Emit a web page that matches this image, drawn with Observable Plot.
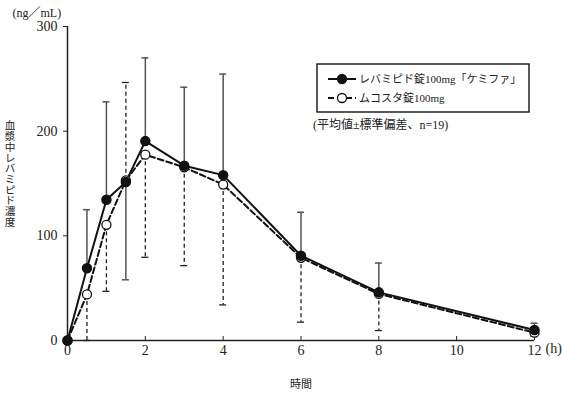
<!DOCTYPE html>
<html><head><meta charset="utf-8">
<script src="https://cdn.jsdelivr.net/npm/d3@7"></script>
<script src="https://cdn.jsdelivr.net/npm/@observablehq/plot@0.6"></script>
<style>
body{margin:0;background:#fff;}
#wrap{position:relative;width:562px;height:395px;}
#legend{position:absolute;left:0;top:0;pointer-events:none;}
</style></head><body><div id="wrap"></div>
<script>
// time points (h)
const times = [0, 0.5, 1, 1.5, 2, 3, 4, 6, 8, 12];
// レバミピド錠100mg「ケミファ」 mean and shown SD bound
const testMean  = [0, 69, 134.5, 151.5, 190.5, 167, 158, 81, 46, 10];
const testBound = [null, 125, 228, 58, 270, 242, 254.5, 122.5, 74, 16.5];
// ムコスタ錠100mg mean and shown SD bound
const refMean  = [0, 44, 110.5, 153, 177.5, 165.5, 149, 79, 44.5, 7.5];
const refBound = [null, 0, 47, 246.5, 79.5, 71.5, 34, 17.5, 9.5, 4];
const xTicks = [0, 2, 4, 6, 8, 10, 12];
const yTicks = [0, 100, 200, 300];
const seriesNames = ["レバミピド錠100mg「ケミファ」", "ムコスタ錠100mg"];
const yLabel = "血漿中レバミピド濃度";
const xLabel = "時間";
const unitLabel = "(ng／mL)";
const xUnit = "(h)";
const note = "(平均値±標準偏差、n=19)";

const testRows = times.map((t, i) => ({t, mean: testMean[i], bound: testBound[i]}));
const refRows = times.map((t, i) => ({t, mean: refMean[i], bound: refBound[i]}));
const testBars = testRows.filter(d => d.bound != null);
const refBars = refRows.filter(d => d.bound != null);
const capHalf = 0.09;

const font = "'Liberation Serif', 'Noto Sans CJK JP', serif";

const chart = Plot.plot({
  width: 562, height: 395,
  marginLeft: 67, marginRight: 28, marginTop: 26, marginBottom: 55,
  style: {fontFamily: font, fontSize: "14px", color: "#222", background: "white"},
  x: {domain: [0, 12]},
  y: {domain: [0, 300]},
  marks: [
    Plot.axisY(yTicks, {tickSize: 4, tickPadding: 6, label: null, fontSize: 14, stroke: "#222"}),
    Plot.axisX(xTicks, {tickSize: -4, tickPadding: 9, label: null, fontSize: 14, stroke: "#222"}),
    Plot.ruleX([0], {stroke: "#222", strokeWidth: 1.5}),
    Plot.ruleY([0], {stroke: "#222", strokeWidth: 1.5}),
    // error bars
    Plot.ruleX(refBars, {x: "t", y1: "mean", y2: "bound", stroke: "#222", strokeWidth: 1.3, strokeDasharray: "4,3"}),
    Plot.ruleY(refBars, {y: "bound", x1: d => d.t - capHalf, x2: d => d.t + capHalf, stroke: "#222", strokeWidth: 1.3}),
    Plot.ruleX(testBars, {x: "t", y1: "mean", y2: "bound", stroke: "#555", strokeWidth: 1.5}),
    Plot.ruleY(testBars, {y: "bound", x1: d => d.t - capHalf, x2: d => d.t + capHalf, stroke: "#555", strokeWidth: 1.5}),
    // lines
    Plot.line(refRows, {x: "t", y: "mean", stroke: "#111", strokeWidth: 2, strokeDasharray: "6,3"}),
    Plot.line(testRows, {x: "t", y: "mean", stroke: "#111", strokeWidth: 2}),
    Plot.dot(refRows, {x: "t", y: "mean", r: 4.5, fill: "white", stroke: "#111", strokeWidth: 1.3}),
    Plot.dot(testRows, {x: "t", y: "mean", r: 4.5, fill: "#111", stroke: "#111"}),
    // labels
    Plot.text([xUnit], {frameAnchor: "bottom-right", text: d => d, textAnchor: "start", dx: 11, dy: 12, fontSize: 14}),
    Plot.text([xLabel], {frameAnchor: "bottom", text: d => d, dy: 47, fontSize: 11, fontFamily: "'Noto Sans CJK JP'"}),
    Plot.text([unitLabel], {frameAnchor: "top-left", text: d => d, textAnchor: "start", dx: -55, dy: -18, fontSize: 12})
  ]
});

const wrap = document.getElementById("wrap");
wrap.appendChild(chart);

// legend overlay
const lg = d3.select(wrap).append("svg").attr("id", "legend").attr("width", 562).attr("height", 395)
  .style("font-family", font);
// vertical y-axis title
lg.append("text").attr("x", 10).attr("y", 120)
  .attr("font-size", 10.7).attr("fill", "#222")
  .style("font-family", "'Noto Sans CJK JP'")
  .style("writing-mode", "vertical-rl").style("text-orientation", "upright")
  .text(yLabel);
lg.append("rect").attr("x", 317).attr("y", 64).attr("width", 212).attr("height", 48)
  .attr("fill", "white").attr("stroke", "#222").attr("stroke-width", 1.5);
const rows = [
  {name: seriesNames[0], dash: null, fill: "#111", y: 79},
  {name: seriesNames[1], dash: "6,3", fill: "white", y: 98}
];
rows.forEach(r => {
  lg.append("line").attr("x1", 328).attr("x2", 356).attr("y1", r.y).attr("y2", r.y)
    .attr("stroke", "#111").attr("stroke-width", 2).attr("stroke-dasharray", r.dash);
  lg.append("circle").attr("cx", 342).attr("cy", r.y).attr("r", 4.5)
    .attr("fill", r.fill).attr("stroke", "#111").attr("stroke-width", 1.3);
  lg.append("text").attr("x", 359).attr("y", r.y).attr("dy", "0.35em")
    .attr("font-size", 11).attr("fill", "#222").text(r.name);
});
lg.append("text").attr("x", 313).attr("y", 125).attr("dy", "0.35em")
  .attr("font-size", 12).attr("fill", "#222").text(note);
</script></body></html>
